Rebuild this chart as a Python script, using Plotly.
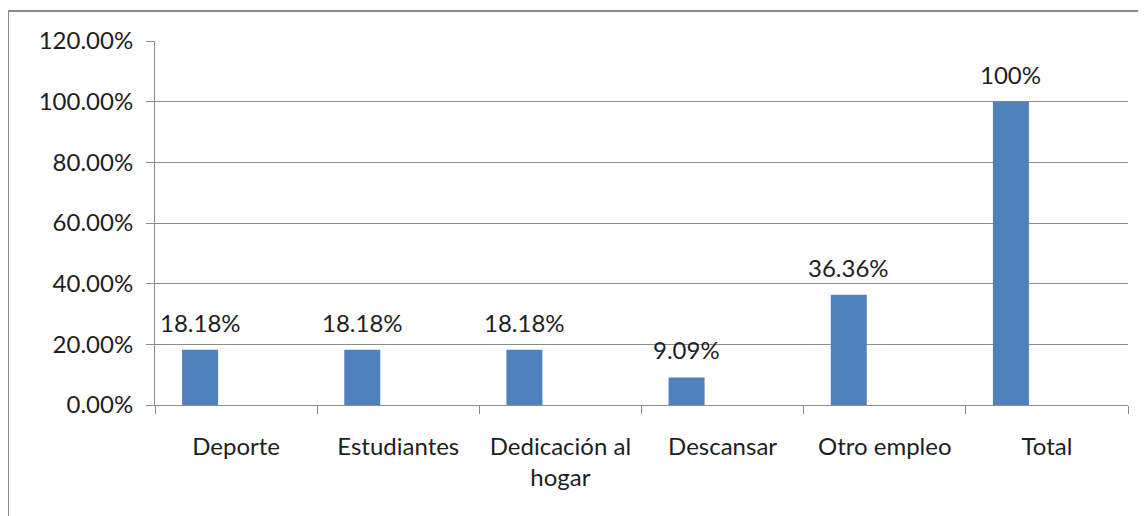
import plotly.graph_objects as go

categories = ["Deporte", "Estudiantes", "Dedicación al<br>hogar", "Descansar", "Otro empleo", "Total"]
values = [0.1818, 0.1818, 0.1818, 0.0909, 0.3636, 1.0]
value_labels = ["18.18%", "18.18%", "18.18%", "9.09%", "36.36%", "100%"]
y_ticks = [0, 0.2, 0.4, 0.6, 0.8, 1.0, 1.2]

FONT = "Lato, 'Open Sans', sans-serif"
GRID = "#8c8c8c"
INK = "#1e1e1e"

# page has an 8px body margin, so the figure starts at (8, 8)
# target plot area in page pixels: x 155..1128, y 41..405
W, H = 1138, 508
L, T = 155 - 8, 41 - 8
R = W - (1128 - 8)
B = H - (405 - 8)
pw, ph = W - L - R, H - T - B

BAR_WIDTH = 0.222
BAR_OFFSET = -0.333
# shift labels from category centre to bar centre, in pixels
label_shift = (BAR_OFFSET + BAR_WIDTH / 2) * pw / len(categories)

figure = go.Figure()

figure.add_trace(
    go.Bar(
        x=categories,
        y=values,
        marker={"color": "#4f81bd", "line": {"width": 0}},
        width=BAR_WIDTH,
        offset=BAR_OFFSET,
        hoverinfo="skip",
    )
)

for category, value, label in zip(categories, values, value_labels):
    figure.add_annotation(
        x=category,
        y=value,
        text=label,
        showarrow=False,
        xanchor="center",
        yanchor="bottom",
        xshift=label_shift,
        yshift=11,
        font={"size": 24, "color": INK, "family": FONT},
    )

figure.update_layout(
    width=W,
    height=H,
    margin={"l": L, "r": R, "t": T, "b": B, "pad": 0},
    paper_bgcolor="white",
    plot_bgcolor="white",
    showlegend=False,
    font={"family": FONT, "size": 24, "color": INK},
    shapes=[
        {
            "type": "rect",
            "xref": "paper",
            "yref": "paper",
            "x0": (0 - L) / pw,
            "x1": (W + 20 - L) / pw,
            "y0": -(B + 20) / ph,
            "y1": (ph + T - 3) / ph,
            "line": {"color": "#8a8a8a", "width": 2},
            "layer": "below",
        }
    ],
)

figure.update_xaxes(
    type="category",
    tickson="boundaries",
    ticks="outside",
    ticklen=8,
    tickcolor=GRID,
    showline=True,
    linecolor=GRID,
    linewidth=1,
    showgrid=False,
    ticklabelstandoff=20,
    tickfont={"size": 24, "family": FONT, "color": INK},
)

figure.update_yaxes(
    range=[0, 1.2],
    tickvals=y_ticks,
    tickformat=".2%",
    ticks="outside",
    ticklen=8,
    tickcolor=GRID,
    showline=True,
    linecolor=GRID,
    linewidth=1,
    showgrid=True,
    gridcolor=GRID,
    gridwidth=1,
    zeroline=False,
    ticklabelstandoff=8,
    tickfont={"size": 24, "family": FONT, "color": INK},
)

figure.write_html("out.html")
